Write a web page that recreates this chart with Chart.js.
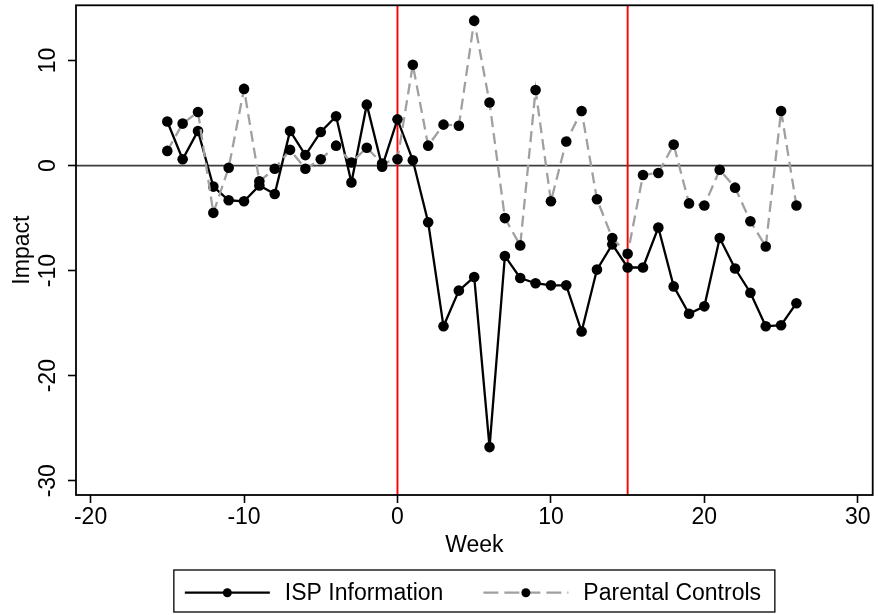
<!DOCTYPE html>
<html lang="en">
<head>
<meta charset="UTF-8">
<title>Impact by week</title>
<script src="https://cdn.jsdelivr.net/npm/chart.js"></script>
<style>
  body { margin: 0; background: #fff; }
  #wrap { width: 878px; height: 615px; }
</style>
</head>
<body>
<div id="wrap"><canvas id="chart" width="878" height="615"></canvas></div>
<script>
// weeks relative to the start of the campaign
const weeks = [-15, -14, -13, -12, -11, -10, -9, -8, -7, -6, -5, -4, -3, -2, -1,
  0, 1, 2, 3, 4, 5, 6, 7, 8, 9, 10, 11, 12, 13, 14, 15, 16, 17, 18, 19, 20,
  21, 22, 23, 24, 25, 26];
const ispInfo = [4.2, 0.6, 3.3, -2.0, -3.3, -3.4, -1.9, -2.7, 3.3, 1.0, 3.2, 4.7, -1.6, 5.8, -0.1,
  4.4, 0.5, -5.4, -15.3, -11.9, -10.6, -26.8, -8.6, -10.7, -11.2, -11.4, -11.4, -15.8, -9.9, -7.5, -9.7, -9.7, -5.9, -11.5, -14.1, -13.4,
  -6.9, -9.8, -12.1, -15.3, -15.2, -13.1];
const parentalControls = [1.4, 4.0, 5.1, -4.5, -0.2, 7.3, -1.5, -0.3, 1.5, -0.3, 0.6, 1.9, 0.3, 1.7, 0.2,
  0.6, 9.6, 1.9, 3.9, 3.8, 13.8, 6.0, -5.0, -7.6, 7.2, -3.4, 2.3, 5.2, -3.2, -6.9, -8.4, -0.9, -0.7, 2.0, -3.6, -3.8,
  -0.4, -2.1, -5.3, -7.7, 5.2, -3.8];
const seriesNames = ['ISP Information', 'Parental Controls'];
const xTicks = [-20, -10, 0, 10, 20, 30];
const yTicks = [-30, -20, -10, 0, 10];
const eventWeeks = [0, 15];

const FONT = '"Liberation Sans", Arial, sans-serif';
const GREY = '#a0a0a0';

const toPoints = vals => weeks.map((w, i) => ({ x: w, y: vals[i] }));

// reference lines, box, rotated y labels and the legend
const extras = {
  id: 'extras',
  beforeDatasetsDraw(chart) {
    const { ctx, chartArea: a, scales: { x, y } } = chart;
    ctx.save();
    ctx.lineWidth = 1.8;
    ctx.strokeStyle = '#3c3c3c';
    const y0 = y.getPixelForValue(0);
    ctx.beginPath(); ctx.moveTo(a.left, y0); ctx.lineTo(a.right, y0); ctx.stroke();
    ctx.strokeStyle = '#ff0000';
    ctx.lineWidth = 1.9;
    eventWeeks.forEach(w => {
      const px = x.getPixelForValue(w);
      ctx.beginPath(); ctx.moveTo(px, a.top); ctx.lineTo(px, a.bottom); ctx.stroke();
    });
    ctx.restore();
  },
  afterDraw(chart) {
    const { ctx, chartArea: a, scales: { y } } = chart;
    ctx.save();
    ctx.strokeStyle = '#000';
    ctx.lineWidth = 1.8;
    ctx.strokeRect(a.left, a.top, a.right - a.left, a.bottom - a.top);

    // y tick labels, Stata style (rotated)
    ctx.fillStyle = '#000';
    ctx.font = '23px ' + FONT;
    ctx.textAlign = 'center';
    ctx.textBaseline = 'middle';
    yTicks.forEach(v => {
      ctx.save();
      ctx.translate(48.5, y.getPixelForValue(v));
      ctx.rotate(-Math.PI / 2);
      ctx.fillText(String(v), 0, 0);
      ctx.restore();
    });

    // legend
    const boxW = 601, boxH = 42, boxTop = 570;
    const boxLeft = (a.left + a.right) / 2 - boxW / 2;
    ctx.lineWidth = 1.3;
    ctx.strokeRect(boxLeft, boxTop, boxW, boxH);
    ctx.textAlign = 'left';
    ctx.textBaseline = 'alphabetic';
    let lx = boxLeft + 11;
    const ly = boxTop + 22.7;
    chart.data.datasets.forEach(ds => {
      ctx.save();
      ctx.strokeStyle = ds.borderColor;
      ctx.lineWidth = 2.2;
      ctx.setLineDash(ds.borderDash ? [15, 6] : []);
      ctx.beginPath(); ctx.moveTo(lx, ly); ctx.lineTo(lx + 85, ly); ctx.stroke();
      ctx.restore();
      ctx.beginPath(); ctx.arc(lx + 42.5, ly, 4.5, 0, Math.PI * 2); ctx.fill();
      ctx.fillText(ds.label, lx + 100, boxTop + 30);
      lx += 100 + ctx.measureText(ds.label).width + 40;
    });
    ctx.restore();
  }
};

new Chart(document.getElementById('chart'), {
  type: 'line',
  data: {
    datasets: [
      {
        label: seriesNames[0],
        data: toPoints(ispInfo),
        borderColor: '#000',
        borderWidth: 2.3,
        pointRadius: 5.3,
        pointBackgroundColor: '#000',
        pointBorderWidth: 0,
        tension: 0,
        order: 2
      },
      {
        label: seriesNames[1],
        data: toPoints(parentalControls),
        borderColor: GREY,
        borderWidth: 2.3,
        borderDash: [11, 6],
        pointRadius: 5.3,
        pointBackgroundColor: '#000',
        pointBorderWidth: 0,
        tension: 0,
        order: 1
      }
    ]
  },
  options: {
    responsive: false,
    animation: false,
    layout: { padding: { top: 4.7, right: 3, bottom: 54, left: 0 } },
    plugins: { legend: { display: false }, tooltip: { enabled: false } },
    scales: {
      x: {
        type: 'linear',
        min: -20.95,
        max: 30.97,
        afterBuildTicks: s => { s.ticks = xTicks.map(v => ({ value: v })); },
        afterFit: s => { s.height = 66; s.paddingLeft = 0; s.paddingRight = 0; },
        ticks: {
          font: { family: FONT, size: 23 },
          color: '#000',
          padding: 1,
          maxRotation: 0,
          autoSkip: false,
          callback: v => String(v)
        },
        grid: { drawOnChartArea: false, tickLength: 8, tickColor: '#000', tickWidth: 1.6 },
        border: { display: false },
        title: {
          display: true, text: 'Week', color: '#000',
          font: { family: FONT, size: 23 }, padding: { top: 0, bottom: 2 }
        }
      },
      y: {
        type: 'linear',
        min: -31.36,
        max: 15.26,
        afterBuildTicks: s => { s.ticks = yTicks.map(v => ({ value: v })); },
        afterFit: s => { s.width = 76; s.paddingTop = 0; s.paddingBottom = 0; },
        ticks: { display: false },
        grid: { drawOnChartArea: false, tickLength: 8, tickColor: '#000', tickWidth: 1.6 },
        border: { display: false },
        title: {
          display: true, text: 'Impact', color: '#000',
          font: { family: FONT, size: 23 }, padding: { top: 9, bottom: 0 }
        }
      }
    }
  },
  plugins: [extras]
});
</script>
</body>
</html>
